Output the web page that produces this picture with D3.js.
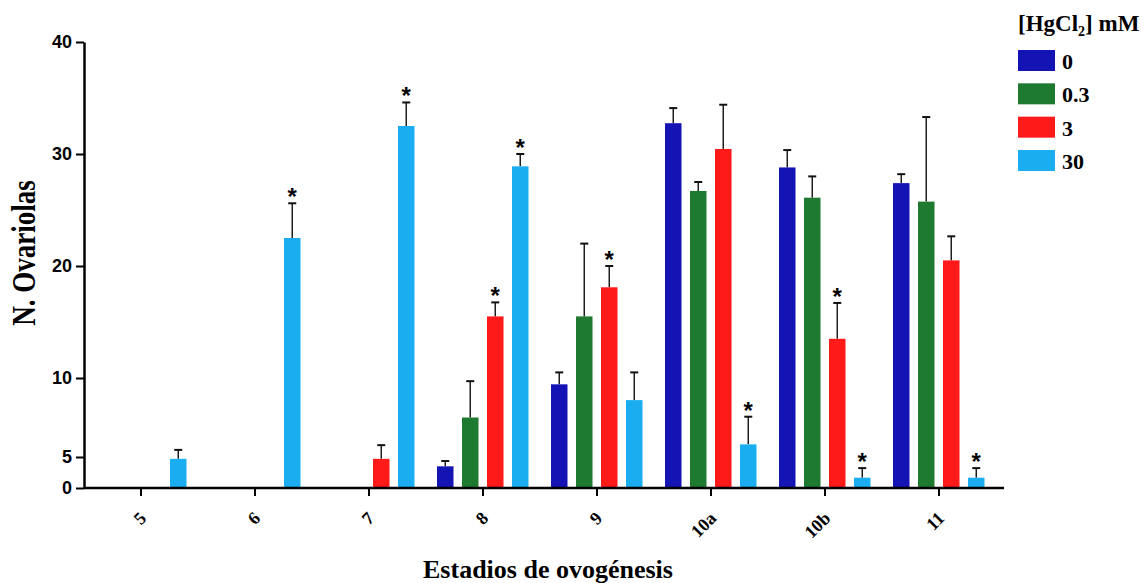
<!DOCTYPE html>
<html>
<head>
<meta charset="utf-8">
<script src="https://cdn.jsdelivr.net/npm/d3@7"></script>
<style>
  body { margin: 0; background: #fff; }
  text { fill: #000; }
  .axis path, .axis line { stroke: #000; }
</style>
</head>
<body>
<svg id="chart" width="1146" height="583"></svg>
<script>
const stages = ['5', '6', '7', '8', '9', '10a', '10b', '11'];
const doses = ['0', '0.3', '3', '30'];
const colors = ['#1414b4', '#1e7a30', '#ff1a1a', '#1aaef0'];

// mean values per dose, one entry per stage
const mean0 = [0, 0, 0, 3.5, 9.6, 32.75, 28.8, 27.4];
const mean03 = [0, 0, 0, 7.5, 15.5, 26.7, 26.1, 25.75];
const mean3 = [0, 0, 4.7, 15.5, 18.1, 30.45, 13.5, 20.5];
const mean30 = [4.7, 22.5, 32.5, 28.9, 8.6, 5.8, 1.66, 1.66];

// error (upper whisker length)
const err0 = [0, 0, 0, 0.85, 0.9, 1.35, 1.55, 0.8];
const err03 = [0, 0, 0, 2.3, 6.5, 0.8, 1.9, 7.55];
const err3 = [0, 0, 1.05, 1.25, 1.9, 3.95, 3.2, 2.15];
const err30 = [0.75, 3.1, 2.1, 1.1, 1.9, 1.75, 1.55, 1.55];

// significance stars (true = marked)
const star0 = [false, false, false, false, false, false, false, false];
const star03 = [false, false, false, false, false, false, false, false];
const star3 = [false, false, false, true, true, false, true, false];
const star30 = [false, true, true, true, false, true, true, true];

const yTicks = [0, 5, 10, 20, 30, 40];

const means = [mean0, mean03, mean3, mean30];
const errs = [err0, err03, err3, err30];
const stars = [star0, star03, star3, star30];

const svg = d3.select('#chart');
const plotLeft = 84;
const plotRight = 996;
const plotBottom = 488;
const plotTop = 42;

const serif = '"Liberation Serif", "Times New Roman", serif';
const sans = '"Liberation Sans", Arial, sans-serif';

const x = d3.scaleBand().domain(stages).range([plotLeft, plotRight]).padding(0);
const xSub = d3.scaleBand().domain(doses).range([11, 102.5]).paddingInner(0.34);

// the original axis is segmented: 0-5 compressed, 5-10 stretched
const y = d3.scaleLinear().domain([0, 5, 10, 40]).range([plotBottom, 457, 378, plotTop]);

const rows = [];
doses.forEach((dose, di) => {
  stages.forEach((stage, si) => {
    rows.push({ stage, dose, di, v: means[di][si], e: errs[di][si], s: stars[di][si] });
  });
});
const shown = rows.filter((d) => d.v > 0);
const cx = (d) => x(d.stage) + xSub(d.dose) + xSub.bandwidth() / 2;

const bars = svg.append('g').attr('class', 'bars');

// error bars (drawn first, bars cover the lower part)
const eg = bars.selectAll('g.err').data(shown).enter().append('g').attr('class', 'err');
eg.append('line')
  .attr('x1', cx)
  .attr('x2', cx)
  .attr('y1', (d) => y(d.v))
  .attr('y2', (d) => y(d.v + d.e))
  .attr('stroke', '#111')
  .attr('stroke-width', 1.4);
eg.append('line')
  .attr('x1', (d) => cx(d) - 4)
  .attr('x2', (d) => cx(d) + 4)
  .attr('y1', (d) => y(d.v + d.e))
  .attr('y2', (d) => y(d.v + d.e))
  .attr('stroke', '#111')
  .attr('stroke-width', 2);

bars
  .selectAll('rect')
  .data(shown)
  .enter()
  .append('rect')
  .attr('x', (d) => x(d.stage) + xSub(d.dose))
  .attr('y', (d) => y(d.v))
  .attr('width', xSub.bandwidth())
  .attr('height', (d) => plotBottom - y(d.v))
  .attr('fill', (d) => colors[d.di]);

// stars
bars
  .selectAll('text.star')
  .data(shown.filter((d) => d.s))
  .enter()
  .append('text')
  .attr('class', 'star')
  .attr('x', cx)
  .attr('y', (d) => y(d.v + d.e) + 2)
  .attr('text-anchor', 'middle')
  .style('font', `bold 24px ${sans}`)
  .text('*');

// y axis
const yAxis = svg
  .append('g')
  .attr('class', 'axis')
  .attr('transform', `translate(${plotLeft},0)`)
  .call(d3.axisLeft(y).tickValues(yTicks).tickSize(8).tickSizeOuter(0).tickFormat(d3.format('d')));
yAxis.select('.domain').attr('stroke-width', 2.5);
yAxis.selectAll('.tick line').attr('stroke-width', 2);
yAxis.selectAll('.tick text').attr('x', -12).style('font', `bold 18px ${sans}`);

// x axis
const xAxis = svg
  .append('g')
  .attr('class', 'axis')
  .attr('transform', `translate(0,${plotBottom})`)
  .call(d3.axisBottom(x).tickSize(8).tickSizeOuter(0));
xAxis.select('.domain').attr('d', `M${plotLeft},0H${plotRight + 8}`).attr('stroke-width', 2.5);
xAxis.selectAll('.tick line').attr('stroke-width', 2);
xAxis
  .selectAll('.tick text')
  .attr('text-anchor', 'end')
  .attr('transform', 'translate(2,27) rotate(-45)')
  .attr('x', 0)
  .attr('y', 0)
  .attr('dy', '0.35em')
  .style('font', `bold 18px ${serif}`);

// axis titles
svg
  .append('text')
  .attr('transform', 'translate(35,253) rotate(-90) scale(1,1.25)')
  .attr('text-anchor', 'middle')
  .style('font', `bold 27px ${serif}`)
  .text('N. Ovariolas');

svg
  .append('text')
  .attr('x', 548)
  .attr('y', 578)
  .attr('text-anchor', 'middle')
  .style('font', `bold 26px ${serif}`)
  .text('Estadios de ovogénesis');

// legend
const legend = svg.append('g').attr('transform', 'translate(1018,0)');
const lt = legend
  .append('text')
  .attr('x', 0)
  .attr('y', 31)
  .style('font', `bold 23px ${serif}`);
lt.append('tspan').text('[HgCl');
lt.append('tspan').attr('dy', 5).style('font-size', '14px').text('2');
lt.append('tspan').attr('dy', -5).text('] mM');

const legendY = d3.scaleBand().domain(doses).range([50, 171]).paddingInner(0.37);
const items = legend.selectAll('g.item').data(doses).enter().append('g').attr('class', 'item');
items
  .append('rect')
  .attr('x', 0)
  .attr('y', (d) => legendY(d))
  .attr('width', 37)
  .attr('height', legendY.bandwidth())
  .attr('fill', (d, i) => colors[i]);
items
  .append('text')
  .attr('x', 44)
  .attr('y', (d) => legendY(d) + legendY.bandwidth() / 2 + 8.5)
  .style('font', `bold 22px ${serif}`)
  .text((d) => d);
</script>
</body>
</html>
